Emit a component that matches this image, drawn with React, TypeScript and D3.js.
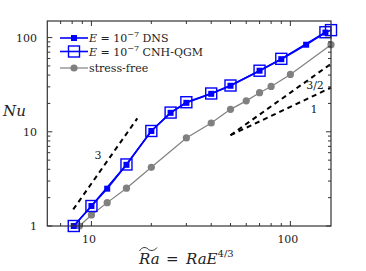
import React from "react";
import * as d3 from "d3";

const dnsX = [8.15, 10, 12, 15, 20, 25, 30, 40, 50, 70, 90, 120, 150];
const dnsY = [1.0, 1.63, 2.49, 4.46, 10.2, 15.9, 20.3, 25.3, 30.8, 44.5, 59, 84, 113];
const cnhX = [8.15, 10, 15, 20, 25, 30, 40, 50, 70, 90, 150, 160];
const cnhY = [1.0, 1.63, 4.5, 10.2, 16, 20.6, 25.5, 31, 44.5, 59.5, 114, 120];
const sfX = [8.7, 10, 12, 15, 20, 30, 40, 50, 60, 70, 80, 100, 160];
const sfY = [1.0, 1.31, 1.77, 2.52, 4.2, 8.6, 12.4, 17.3, 21.3, 26, 30.3, 40.6, 84];

const slopeLines = [
  { x0: 8.1, y0: 1.5, x1: 17, p: 3, label: "3" },
  { x0: 50, y0: 9.2, x1: 160, p: 1.5, label: "3/2" },
  { x0: 50, y0: 9.2, x1: 160, p: 1, label: "1" },
];

const xMajor = [10, 100];
const xMinor = [7, 8, 9, 20, 30, 40, 50, 60, 70, 80, 90];
const yMajor = [1, 10, 100];
const yMinor = [2, 3, 4, 5, 6, 7, 8, 9, 20, 30, 40, 50, 60, 70, 80, 90];

export default function App() {
  const W = 366, H = 271;
  const L = 47.3, R = 331, T = 21, B = 226;
  const x = d3.scaleLog().domain([6, 160]).range([L, R]);
  const y = d3.scaleLog().domain([1, 150]).range([B, T]);
  const line = d3.line<[number, number]>().x(d => x(d[0])).y(d => y(d[1]));
  const zip = (a: number[], b: number[]) => a.map((v, i) => [v, b[i]] as [number, number]);
  const blue = "#0000ff";
  const gray = "#808080";
  const axisCol = "#333";
  const font = "'DejaVu Serif', serif";

  const slopeLabelPos: Record<string, [number, number]> = {
    "3": [98, 159],
    "3/2": [315, 89],
    "1": [314, 113],
  };

  return (
    <svg width={W} height={H} style={{ position: "absolute", left: 0, top: 0, background: "#fff", fontFamily: font }}>
      {slopeLines.map((s, i) => (
        <path key={i}
          d={line([[s.x0, s.y0], [s.x1, s.y0 * Math.pow(s.x1 / s.x0, s.p)]]) || ""}
          stroke="#000" strokeWidth={2} strokeDasharray="5,4" fill="none" />
      ))}
      {slopeLines.map((s, i) => (
        <text key={"l" + i} x={slopeLabelPos[s.label][0]} y={slopeLabelPos[s.label][1]}
          fontSize={11} textAnchor="middle" fill="#222">{s.label}</text>
      ))}
      <path d={line(zip(sfX, sfY)) || ""} stroke={gray} strokeWidth={1.2} fill="none" />
      {zip(sfX, sfY).map((d, i) => (
        <circle key={"s" + i} cx={x(d[0])} cy={y(d[1])} r={3.6} fill={gray} />
      ))}
      <path d={line(zip(cnhX, cnhY)) || ""} stroke={blue} strokeWidth={1.6} fill="none" />
      {zip(cnhX, cnhY).map((d, i) => (
        <rect key={"c" + i} x={x(d[0]) - 5.5} y={y(d[1]) - 5.5} width={11} height={11}
          fill="none" stroke={blue} strokeWidth={1.4} />
      ))}
      <path d={line(zip(dnsX, dnsY)) || ""} stroke={blue} strokeWidth={1.6} fill="none" />
      {zip(dnsX, dnsY).map((d, i) => (
        <rect key={"d" + i} x={x(d[0]) - 3} y={y(d[1]) - 3} width={6} height={6} fill={blue} />
      ))}
      <rect x={L} y={T} width={R - L} height={B - T} fill="none" stroke={axisCol} strokeWidth={1.2} />
      {xMajor.concat(xMinor).map((v, i) => {
        const len = xMajor.includes(v) ? 5 : 3;
        return (
          <g key={"xt" + i} stroke={axisCol} strokeWidth={1}>
            <line x1={x(v)} x2={x(v)} y1={B} y2={B - len} />
            <line x1={x(v)} x2={x(v)} y1={T} y2={T + len} />
          </g>
        );
      })}
      {yMajor.concat(yMinor).map((v, i) => {
        const len = yMajor.includes(v) ? 5 : 3;
        return (
          <g key={"yt" + i} stroke={axisCol} strokeWidth={1}>
            <line x1={L} x2={L + len} y1={y(v)} y2={y(v)} />
            <line x1={R} x2={R - len} y1={y(v)} y2={y(v)} />
          </g>
        );
      })}
      {xMajor.map((v, i) => (
        <text key={"xl" + i} x={x(v) - 2.5} y={243} fontSize={11} textAnchor="middle" fill="#222">{v}</text>
      ))}
      {yMajor.map((v, i) => (
        <text key={"yl" + i} x={37} y={y(v) + 4} fontSize={11} textAnchor="end" fill="#222">{v}</text>
      ))}
      <text x={3} y={116} fontSize={15} fontStyle="italic" fill="#222">Nu</text>
      <g fill="#222" fontSize={15}>
        <text x={139} y={264} fontStyle="italic">Ra</text>
        <path d="M139.5,251 C142,246.5 146,247 148,249 C150,251 154,251.5 157,247.5" stroke="#222" strokeWidth={0.9} fill="none" />
        <text x={166} y={264}>=</text>
        <text x={186} y={264}>
          <tspan fontStyle="italic">RaE</tspan>
          <tspan fontSize={10} dy={-7}>4/3</tspan>
        </text>
      </g>
      <g fontSize={11} fill="#222">
        <line x1={60} x2={88} y1={38} y2={38} stroke={blue} strokeWidth={1.6} />
        <rect x={71} y={35} width={6} height={6} fill={blue} />
        <text x={89} y={42}>
          <tspan fontStyle="italic">E</tspan>
          <tspan> = 10</tspan>
          <tspan fontSize={8} dy={-5}>−7</tspan>
          <tspan dy={5}> DNS</tspan>
        </text>
        <line x1={60} x2={88} y1={51.5} y2={51.5} stroke={blue} strokeWidth={1.6} />
        <rect x={68.5} y={46} width={11} height={11} fill="none" stroke={blue} strokeWidth={1.4} />
        <text x={89} y={55.5}>
          <tspan fontStyle="italic">E</tspan>
          <tspan> = 10</tspan>
          <tspan fontSize={8} dy={-5}>−7</tspan>
          <tspan dy={5}> CNH-QGM</tspan>
        </text>
        <line x1={60} x2={88} y1={68} y2={68} stroke={gray} strokeWidth={1.2} />
        <circle cx={74} cy={68} r={3.6} fill={gray} />
        <text x={89} y={72}>stress-free</text>
      </g>
    </svg>
  );
}
